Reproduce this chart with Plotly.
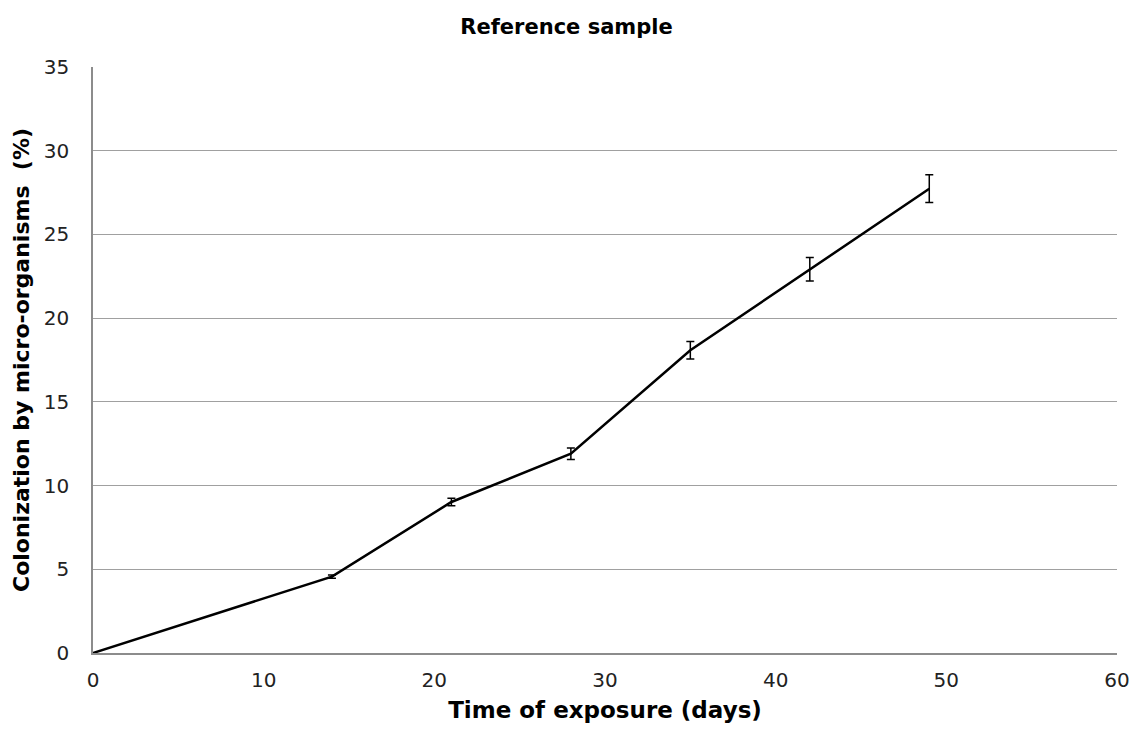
import plotly.graph_objects as go

days = [0, 14, 21, 28, 35, 42, 49]
colonization = [0, 4.56, 9.02, 11.9, 18.08, 22.92, 27.73]
errors = [0, 0.1, 0.22, 0.35, 0.52, 0.7, 0.83]

x_ticks = [0, 10, 20, 30, 40, 50, 60]
y_ticks = [0, 5, 10, 15, 20, 25, 30, 35]

fig = go.Figure()
fig.add_trace(go.Scatter(
    x=days, y=colonization, mode="lines",
    line=dict(color="black", width=2.5),
    error_y=dict(type="data", array=errors, visible=True,
                 color="black", thickness=1.5, width=4),
    showlegend=False,
))

font_family = "Verdana, DejaVu Sans, sans-serif"
fig.update_layout(
    width=1133, height=736,
    margin=dict(l=93, r=16, t=67, b=83),
    paper_bgcolor="white", plot_bgcolor="white",
    title=dict(text="<b>Reference sample</b>", x=0.5, xanchor="center",
               xref="container",
               y=1 - 27 / 736, yref="container", yanchor="middle",
               font=dict(family=font_family, size=21, color="black")),
    font=dict(family=font_family, color="black"),
)
fig.update_xaxes(
    range=[0, 60], tickvals=x_ticks, showgrid=False,
    showline=True, linecolor="#8c8c8c", linewidth=1.5,
    ticks="", tickfont=dict(size=20, color="#222"),
    ticklabelstandoff=8, automargin=False,
    zeroline=False,
    title=dict(text="<b>Time of exposure (days)</b>", standoff=11,
               font=dict(size=23, color="black")),
)
fig.update_yaxes(
    range=[0, 35], tickvals=y_ticks, showgrid=True,
    gridcolor="#a0a0a0", gridwidth=1,
    showline=True, linecolor="#8c8c8c", linewidth=1.5,
    ticks="", tickfont=dict(size=20, color="#222"),
    ticklabelstandoff=18, automargin=False,
    zeroline=False,
    title=dict(text="<b>Colonization by micro-organisms  (%)</b>", standoff=8,
               font=dict(size=22, color="black")),
)

fig.write_html("out.html")
